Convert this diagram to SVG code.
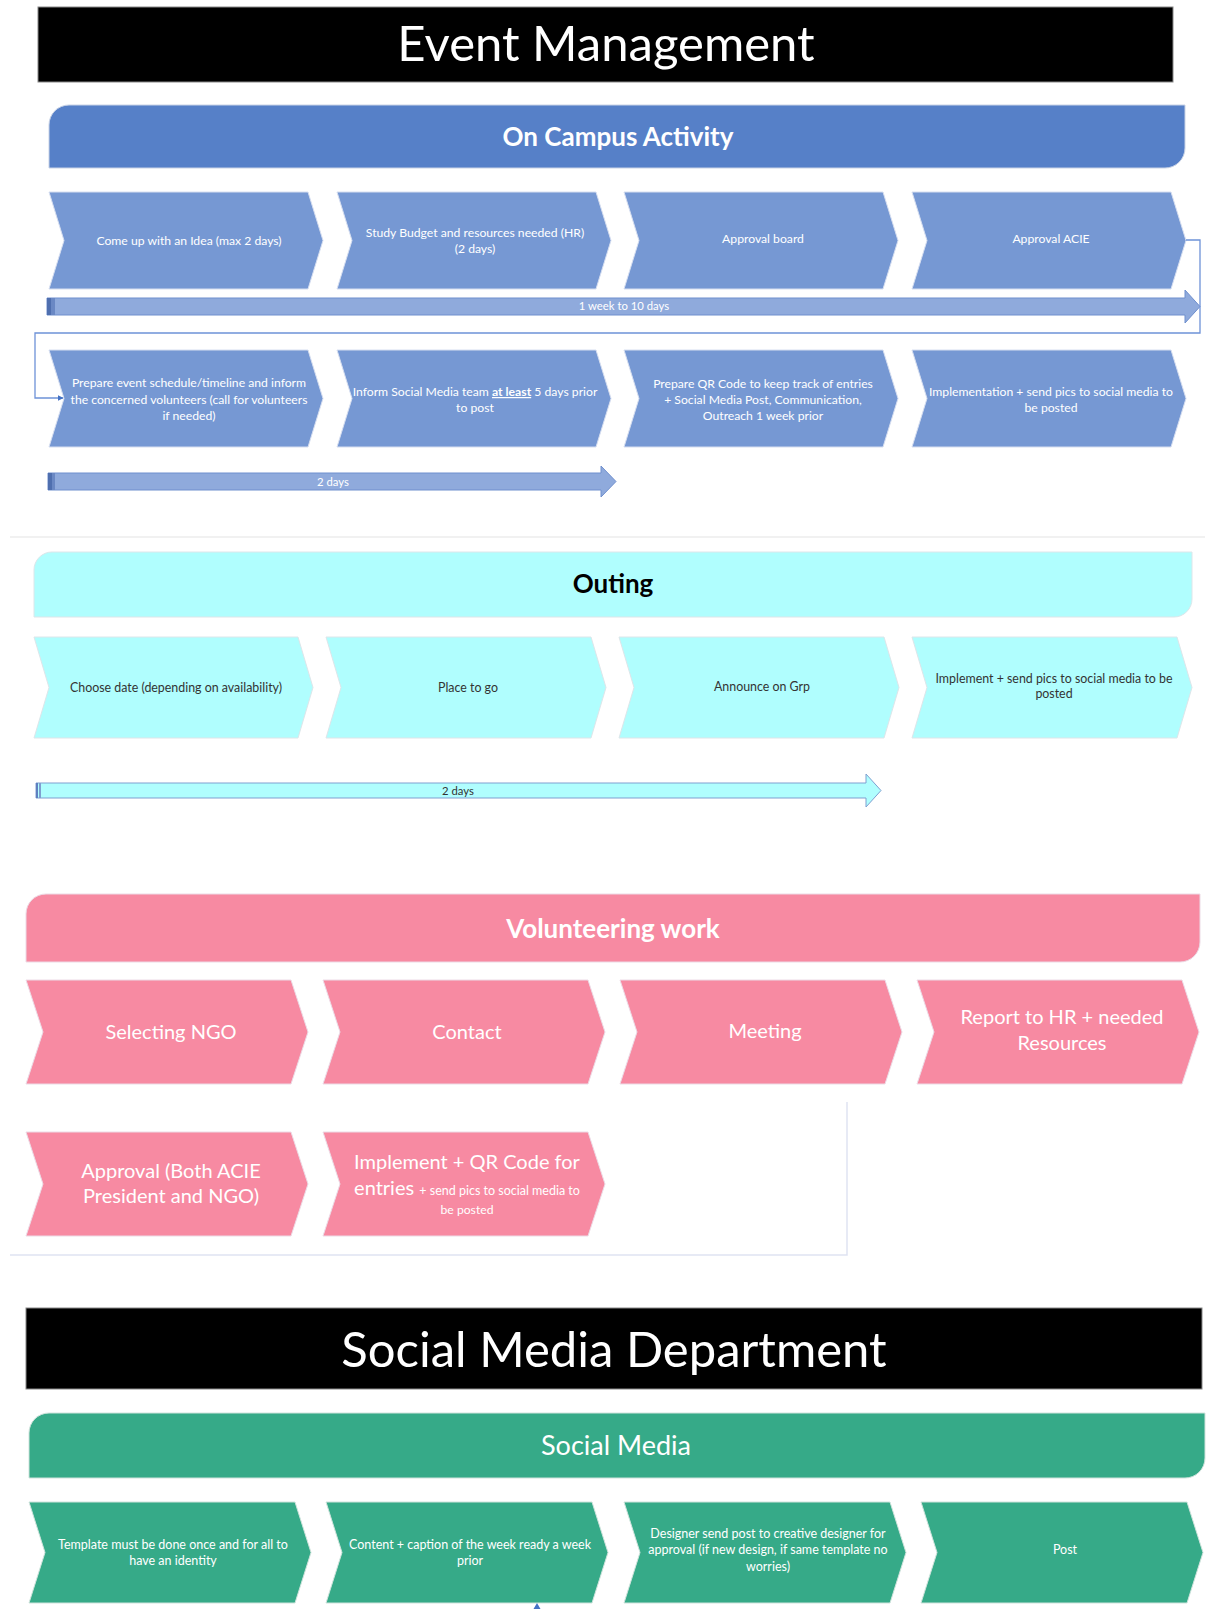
<svg xmlns="http://www.w3.org/2000/svg" width="1211" height="1609" viewBox="0 0 1211 1609">
<defs>
<marker id="ah" viewBox="0 0 10 10" refX="9" refY="5" markerWidth="6" markerHeight="6" orient="auto" markerUnits="userSpaceOnUse">
<path d="M0,0 L10,5 L0,10 Z" fill="#4472C4"/>
</marker>
</defs>
<style>
text{font-family:Lato,"Liberation Sans",Arial,sans-serif;text-anchor:middle}
.title{fill:#000;stroke:#888;stroke-width:1}
.ttl{fill:#fff;font-size:49px}
.hb{fill:#5680C8;stroke:#c9d3e6;stroke-width:1}
.cb{fill:#7698D3;stroke:#d6def0;stroke-width:1}
.hc{fill:#B0FEFE;stroke:#dde6ea;stroke-width:1}
.cc{fill:#B0FEFE;stroke:#dde6ea;stroke-width:1}
.hp{fill:#F78AA2;stroke:#ecdbe6;stroke-width:1}
.cp{fill:#F78AA2;stroke:#ecdbe6;stroke-width:1}
.hg{fill:#36AA88;stroke:#cfe3dc;stroke-width:1}
.cg{fill:#36AA88;stroke:#cfe3dc;stroke-width:1}
.w11{fill:#fff;font-size:12.2px}
.g12{fill:#fff;font-size:12.5px}
.d11{fill:#333;font-size:12.4px}
.w19{fill:#fff;font-size:20px}
.hdr{font-size:26px;font-weight:bold}
.bar{fill:#8FAADC;stroke:#6F8FCE;stroke-width:1}
.barc{fill:#B0FEFE;stroke:#7F9FD0;stroke-width:1}
.conn{fill:none;stroke:#6E92D8;stroke-width:1.3}
.tl{font-size:11.3px}
</style>

<!-- Event Management title -->
<g id="title-event">
<rect class="title" x="38" y="7" width="1135" height="75"/>
<text class="ttl" x="606" y="61">Event Management</text>
</g>

<!-- On Campus Activity -->
<g id="hdr-campus">
<path class="hb" d="M49,168 V125 A20,20 0 0 1 69,105 H1185 V148 A20,20 0 0 1 1165,168 Z"/>
<text class="hdr" x="618" y="146" fill="#fff">On Campus Activity</text>
</g>

<g id="c1">
<path class="cb" d="M49,192 H308 L323,240.5 L308,289 H49 L64,240.5 Z"/>
<text class="w11" x="189" y="245">Come up with an Idea (max 2 days)</text>
</g>
<g id="c2">
<path class="cb" d="M337,192 H596 L611,240.5 L596,289 H337 L352,240.5 Z"/>
<text class="w11" x="475" y="237">Study Budget and resources needed (HR)</text>
<text class="w11" x="475" y="253">(2 days)</text>
</g>
<g id="c3">
<path class="cb" d="M624,192 H883 L898,240.5 L883,289 H624 L639,240.5 Z"/>
<text class="w11" x="763" y="243">Approval board</text>
</g>
<g id="c4">
<path class="cb" d="M912,192 H1171 L1186,240.5 L1171,289 H912 L927,240.5 Z"/>
<text class="w11" x="1051" y="243">Approval ACIE</text>
</g>

<g id="timeline-1">
<path class="bar" d="M47,298 H1185 V290 L1200,306.5 L1185,323 V315 H47 Z"/>
<rect x="47" y="298" width="4" height="17" fill="#4F6FAF"/>
<rect x="51" y="298" width="4" height="17" fill="#6A88C4"/>
<text class="w11 tl" x="624" y="310">1 week to 10 days</text>
</g>

<g id="c5">
<path class="cb" d="M49,350 H308 L323,398.5 L308,447 H49 L64,398.5 Z"/>
<text class="w11" x="189" y="387">Prepare event schedule/timeline and inform</text>
<text class="w11" x="189" y="404">the concerned volunteers (call for volunteers</text>
<text class="w11" x="189" y="420">if needed)</text>
</g>
<g id="c6">
<path class="cb" d="M337,350 H596 L611,398.5 L596,447 H337 L352,398.5 Z"/>
<text class="w11" x="475" y="396">Inform Social Media team <tspan font-weight="bold" text-decoration="underline">at least</tspan> 5 days prior</text>
<text class="w11" x="475" y="412">to post</text>
</g>
<g id="c7">
<path class="cb" d="M624,350 H883 L898,398.5 L883,447 H624 L639,398.5 Z"/>
<text class="w11" x="763" y="388">Prepare QR Code to keep track of entries</text>
<text class="w11" x="763" y="404">+ Social Media Post, Communication,</text>
<text class="w11" x="763" y="420">Outreach 1 week prior</text>
</g>
<g id="c8">
<path class="cb" d="M912,350 H1171 L1186,398.5 L1171,447 H912 L927,398.5 Z"/>
<text class="w11" x="1051" y="396">Implementation + send pics to social media to</text>
<text class="w11" x="1051" y="412">be posted</text>
</g>

<g id="timeline-2">
<path class="bar" d="M48,473 H601 V466 L616,481.5 L601,497 V490 H48 Z"/>
<rect x="48" y="473" width="4" height="17" fill="#4F6FAF"/>
<rect x="52" y="473" width="3" height="17" fill="#6A88C4"/>
<text class="w11 tl" x="333" y="486">2 days</text>
</g>

<line x1="10" y1="537" x2="1205" y2="537" stroke="#ececec" stroke-width="1.5"/>

<!-- Outing -->
<g id="hdr-outing">
<path class="hc" d="M34,617 V570 A18,18 0 0 1 52,552 H1192 V599 A18,18 0 0 1 1174,617 Z"/>
<text class="hdr" x="613" y="593" fill="#000">Outing</text>
</g>
<g id="o1">
<path class="cc" d="M34,637 H298 L313,687.5 L298,738 H34 L49,687.5 Z"/>
<text class="d11" x="176" y="692">Choose date (depending on availability)</text>
</g>
<g id="o2">
<path class="cc" d="M326,637 H591 L606,687.5 L591,738 H326 L341,687.5 Z"/>
<text class="d11" x="468" y="692">Place to go</text>
</g>
<g id="o3">
<path class="cc" d="M619,637 H884 L899,687.5 L884,738 H619 L634,687.5 Z"/>
<text class="d11" x="762" y="691">Announce on Grp</text>
</g>
<g id="o4">
<path class="cc" d="M912,637 H1177 L1192,687.5 L1177,738 H912 L927,687.5 Z"/>
<text class="d11" x="1054" y="683">Implement + send pics to social media to be</text>
<text class="d11" x="1054" y="698">posted</text>
</g>
<g id="timeline-3">
<path class="barc" d="M36,783 H866 V774 L881,790.5 L866,807 V798 H36 Z"/>
<rect x="36" y="783" width="2" height="15" fill="#5F7FC0"/>
<rect x="39" y="783" width="2" height="15" fill="#7F9FD0"/>
<text class="d11 tl" x="458" y="795">2 days</text>
</g>

<!-- Volunteering work -->
<g id="hdr-volunteering">
<path class="hp" d="M26,962 V914 A20,20 0 0 1 46,894 H1200 V942 A20,20 0 0 1 1180,962 Z"/>
<text class="hdr" x="613" y="938" fill="#fff" font-size="32">Volunteering work</text>
</g>
<g id="v1">
<path class="cp" d="M26,980 H291 L308,1032 L291,1084 H26 L43,1032 Z"/>
<text class="w19" x="171" y="1039">Selecting NGO</text>
</g>
<g id="v2">
<path class="cp" d="M323,980 H588 L605,1032 L588,1084 H323 L340,1032 Z"/>
<text class="w19" x="467" y="1039">Contact</text>
</g>
<g id="v3">
<path class="cp" d="M620,980 H885 L902,1032 L885,1084 H620 L637,1032 Z"/>
<text class="w19" x="765" y="1038">Meeting</text>
</g>
<g id="v4">
<path class="cp" d="M917,980 H1182 L1199,1032 L1182,1084 H917 L934,1032 Z"/>
<text class="w19" x="1062" y="1024">Report to HR + needed</text>
<text class="w19" x="1062" y="1050">Resources</text>
</g>
<g id="v5">
<path class="cp" d="M26,1132 H291 L308,1184 L291,1236 H26 L43,1184 Z"/>
<text class="w19" x="171" y="1178">Approval (Both ACIE</text>
<text class="w19" x="171" y="1203">President and NGO)</text>
</g>
<g id="v6">
<path class="cp" d="M323,1132 H588 L605,1184 L588,1236 H323 L340,1184 Z"/>
<text class="w19" x="467" y="1169">Implement + QR Code for</text>
<text class="w19" x="467" y="1195">entries <tspan font-size="12.5">+ send pics to social media to</tspan></text>
<text class="w11" x="467" y="1214" font-size="12.5">be posted</text>
</g>
<path d="M847,1102 V1255 H10" fill="none" stroke="#dfe3f2" stroke-width="1.5"/>

<!-- Social Media Department -->
<g id="title-social">
<rect class="title" x="26" y="1308" width="1176" height="81"/>
<text class="ttl" x="614" y="1367" font-size="52.5">Social Media Department</text>
</g>
<g id="hdr-social">
<path class="hg" d="M29,1478 V1433 A20,20 0 0 1 49,1413 H1205 V1458 A20,20 0 0 1 1185,1478 Z"/>
<text x="616" y="1455" fill="#fff" font-size="27">Social Media</text>
</g>
<g id="s1">
<path class="cg" d="M29,1502 H295 L311,1552.5 L295,1603 H29 L45,1552.5 Z"/>
<text class="g12" x="173" y="1549">Template must be done once and for all to</text>
<text class="g12" x="173" y="1565">have an identity</text>
</g>
<g id="s2">
<path class="cg" d="M326,1502 H592 L608,1552.5 L592,1603 H326 L342,1552.5 Z"/>
<text class="g12" x="470" y="1549">Content + caption of the week ready a week</text>
<text class="g12" x="470" y="1565">prior</text>
</g>
<g id="s3">
<path class="cg" d="M624,1502 H890 L906,1552.5 L890,1603 H624 L640,1552.5 Z"/>
<text class="g12" x="768" y="1538">Designer send post to creative designer for</text>
<text class="g12" x="768" y="1554">approval (if new design, if same template no</text>
<text class="g12" x="768" y="1571">worries)</text>
</g>
<g id="s4">
<path class="cg" d="M921,1502 H1187 L1203,1552.5 L1187,1603 H921 L937,1552.5 Z"/>
<text class="g12" x="1065" y="1554">Post</text>
</g>

<!-- connectors -->
<g id="connectors">
<path class="conn" d="M1186,240 H1200 V333 H35 V398 H63" marker-end="url(#ah)"/>
<path d="M533.5,1609 L537,1603 L540.5,1609 Z" fill="#4472C4"/>
</g>
</svg>
